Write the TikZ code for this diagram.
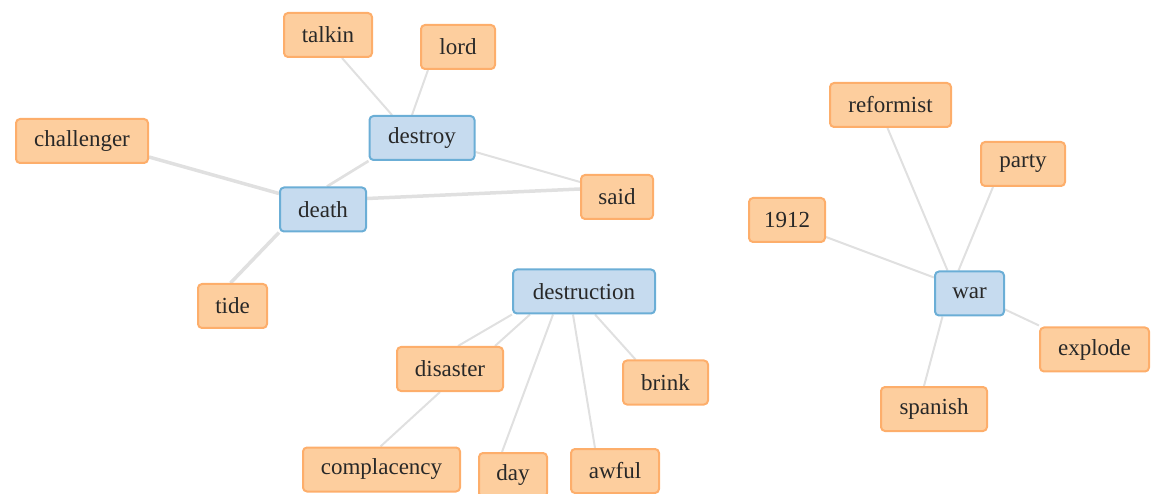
\documentclass[tikz,border=0pt]{standalone}
\usepackage{fontspec}
\setmainfont{Liberation Serif}
\usetikzlibrary{backgrounds}

\definecolor{wordfill}{RGB}{253,206,158}
\definecolor{worddraw}{RGB}{253,174,107}
\definecolor{keyfill}{RGB}{198,219,239}
\definecolor{keydraw}{RGB}{107,174,214}
\definecolor{linkgray}{RGB}{224,224,224}
\definecolor{textgray}{RGB}{40,40,40}

\tikzset{
  word/.style={draw=worddraw,fill=wordfill,line width=2pt,rounded corners=4pt,
    minimum height=44pt,inner sep=0pt,text=textgray,font=\fontsize{23}{26}\selectfont},
  key/.style={word,draw=keydraw,fill=keyfill},
  link/.style={draw=linkgray,line width=2pt},
  heavy/.style={link,line width=3.5pt}
}

\begin{document}
\begin{tikzpicture}[x=1pt,y=-1pt]
  \useasboundingbox (0,0) rectangle (1157,494);
  % key words
  \node[key,minimum width=105pt] (destroy) at (422,138) {destroy};
  \node[key,minimum width=86pt] (death) at (323,209.5) {death};
  \node[key,minimum width=142pt] (destruction) at (584,291.5) {destruction};
  \node[key,minimum width=69pt] (war) at (969.5,293.5) {war};
  % neighbours
  \node[word,minimum width=88pt] (talkin) at (328,35) {talkin};
  \node[word,minimum width=74pt] (lord) at (458,47) {lord};
  \node[word,minimum width=132pt] (challenger) at (82,141) {challenger};
  \node[word,minimum width=72pt] (said) at (617,197) {said};
  \node[word,minimum width=69pt] (tide) at (232.5,306) {tide};
  \node[word,minimum width=106pt] (disaster) at (450,369) {disaster};
  \node[word,minimum width=85pt] (brink) at (665.5,382.5) {brink};
  \node[word,minimum width=157pt] (complacency) at (381.5,469.5) {complacency};
  \node[word,minimum width=68pt] (day) at (513,475) {day};
  \node[word,minimum width=88pt] (awful) at (615,471) {awful};
  \node[word,minimum width=121pt] (reformist) at (890.5,105) {reformist};
  \node[word,minimum width=84pt] (party) at (1023,164) {party};
  \node[word,minimum width=76pt] (n1912) at (787,220) {1912};
  \node[word,minimum width=109pt] (explode) at (1094.5,349.5) {explode};
  \node[word,minimum width=106pt] (spanish) at (934,409) {spanish};

  \begin{pgfonlayer}{background}
    \path[link] ([xshift=14pt]talkin.south) edge ([xshift=-30pt]destroy.north);
    \path[link] ([xshift=-30pt]lord.south) edge ([xshift=-10pt]destroy.north);
    \path[link] ([yshift=-14pt]destroy.east) edge ([yshift=15pt]said.west);
    \path[link,line width=2.7pt] (destroy.south west) edge ([xshift=4pt]death.north);
    \path[heavy] ([yshift=11pt]death.east) edge ([yshift=8pt]said.west);
    \path[heavy] ([yshift=-16pt]challenger.east) edge ([yshift=16pt]death.west);
    \path[heavy] (death.south west) edge ([xshift=-2pt]tide.north);
    \path[link] (destruction.south west) edge ([xshift=8pt]disaster.north);
    \path[link] ([xshift=-54pt]destruction.south) edge ([xshift=45pt]disaster.north);
    \path[link] ([xshift=-10pt]disaster.south) edge ([xshift=-1pt]complacency.north);
    \path[link] ([xshift=-31pt]destruction.south) edge ([xshift=-11pt]day.north);
    \path[link] ([xshift=-11pt]destruction.south) edge ([xshift=-20pt]awful.north);
    \path[link] ([xshift=11pt]destruction.south) edge ([xshift=-30pt]brink.north);
    \path[link] ([xshift=-3pt]reformist.south) edge ([xshift=-22pt]war.north);
    \path[link] ([xshift=-30pt]party.south) edge ([xshift=-11pt]war.north);
    \path[link] ([yshift=-17pt]n1912.east) edge ([yshift=16pt]war.west);
    \path[link] ([yshift=-16pt]war.east) edge ([yshift=24pt]explode.west);
    \path[link] ([xshift=-27pt]war.south) edge ([xshift=-10pt]spanish.north);
  \end{pgfonlayer}
\end{tikzpicture}
\end{document}
